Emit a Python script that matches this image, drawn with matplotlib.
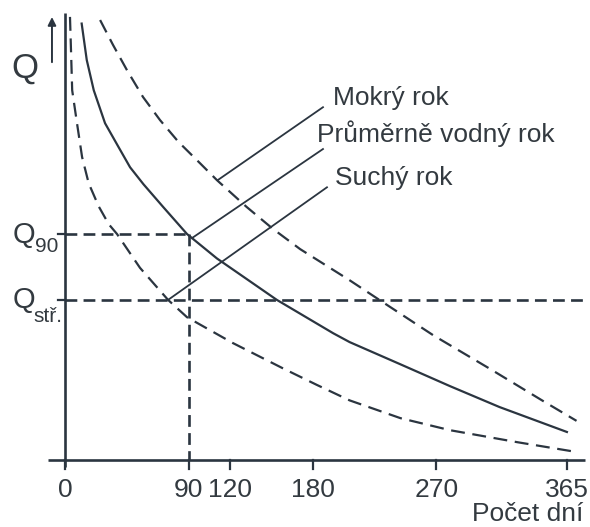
import matplotlib.pyplot as plt

plt.rcParams['font.family'] = ['Liberation Sans', 'DejaVu Sans']
plt.rcParams['lines.scale_dashes'] = False

# flow duration curves, days vs relative discharge (0-100)
wet_days = [25.5, 34.9, 45.1, 56.7, 69.1, 82.5, 98.2, 110.5, 132, 151, 171, 207, 231, 268, 309, 348, 372]
wet_q = [98.9, 93.3, 87.6, 81.6, 76.4, 71.5, 66.7, 62.9, 56.9, 52.0, 47.4, 40.4, 35.5, 28.0, 20.5, 13.2, 8.8]

avg_days = [12.1, 15.8, 20.9, 29.1, 39.0, 47.3, 57, 71.3, 88.7, 110.5, 154, 195, 207, 244, 280, 316, 365]
avg_q = [98.1, 89.9, 83.1, 75.7, 70.3, 65.8, 62.0, 56.9, 50.8, 45.3, 36.0, 28.5, 26.5, 21.5, 16.6, 11.9, 6.3]

dry_days = [3.6, 4.4, 5.2, 8.7, 12.4, 17.2, 24.5, 31.8, 37.8, 54.5, 74.9, 88.7, 122, 158.5, 183, 207, 244, 280, 329, 372]
dry_q = [99.6, 91.5, 83.1, 75.7, 68.1, 62.2, 57.0, 53.0, 50.8, 43.2, 36.0, 32.1, 26.3, 20.6, 16.9, 13.4, 9.4, 6.7, 4.0, 1.8]

q90 = 50.8
q_str = 36.0
day90 = 90
x_ticks = [0, 90, 120, 180, 270, 365]

line_c = '#2b3540'
text_c = '#333a40'

fig = plt.figure(figsize=(5.9, 5.27), dpi=100)
ax = fig.add_axes([0, 0, 1, 1])
ax.set_xlim(-47.3, 381.8)
ax.set_ylim(-15.06, 103.4)
ax.axis('off')

# axes
ax.plot([0, 0], [-1.6, 100.5], color=line_c, lw=1.9, solid_capstyle='butt')
ax.plot([-12.4, 378], [0, 0], color=line_c, lw=1.9, solid_capstyle='butt')
ax.annotate('', xy=(-9.5, 100.2), xytext=(-9.5, 88.8),
            arrowprops=dict(arrowstyle='-|>', color=line_c, lw=1.4, mutation_scale=12))
for t in x_ticks:
    ax.plot([t, t], [0, -2.0], color=line_c, lw=1.6)
    ax.text(t, -6.8, str(t), ha='center', va='center', fontsize=19, color=text_c)
for q in [q90, q_str]:
    ax.plot([-5, 0], [q, q], color=line_c, lw=1.6)

# curves
ax.plot(wet_days, wet_q, color=line_c, lw=1.6, dashes=(10, 5.5))
ax.plot(avg_days, avg_q, color=line_c, lw=1.6)
ax.plot(dry_days, dry_q, color=line_c, lw=1.6, dashes=(10, 5.5))

# Q90 and Q_str guides
ax.plot([0, day90], [q90, q90], color=line_c, lw=1.9, dashes=(8.5, 4.5))
ax.plot([day90, day90], [q90, 0], color=line_c, lw=1.9, dashes=(8.5, 4.5))
ax.plot([0, 378], [q_str, q_str], color=line_c, lw=1.9, dashes=(8.5, 4.5))

# leader lines and labels
ax.plot([111, 187.6], [62.9, 79.3], color=line_c, lw=1.3)
ax.plot([92.4, 187.6], [49.9, 69.9], color=line_c, lw=1.3)
ax.plot([75, 190.5], [36.0, 61.3], color=line_c, lw=1.3)
ax.text(195, 79.8, 'Mokrý rok', fontsize=19, color=text_c, va='baseline')
ax.text(183, 71.5, 'Průměrně vodný rok', fontsize=19, color=text_c, va='baseline')
ax.text(196, 61.8, 'Suchý rok', fontsize=19, color=text_c, va='baseline')

ax.text(-29.1, 88.1, 'Q', fontsize=25, color=text_c, ha='center', va='center')
ax.text(-37.8, 48.8, 'Q', fontsize=21, color=text_c, va='baseline')
ax.text(-21.8, 46.7, '90', fontsize=15, color=text_c, va='baseline')
ax.text(-37.8, 34.2, 'Q', fontsize=21, color=text_c, va='baseline')
ax.text(-23.3, 31.0, 'stř.', fontsize=15, color=text_c, va='baseline')

ax.text(376.7, -12.1, 'Počet dní', fontsize=19, color=text_c, ha='right', va='center')

fig.savefig('out.png', dpi=100)
